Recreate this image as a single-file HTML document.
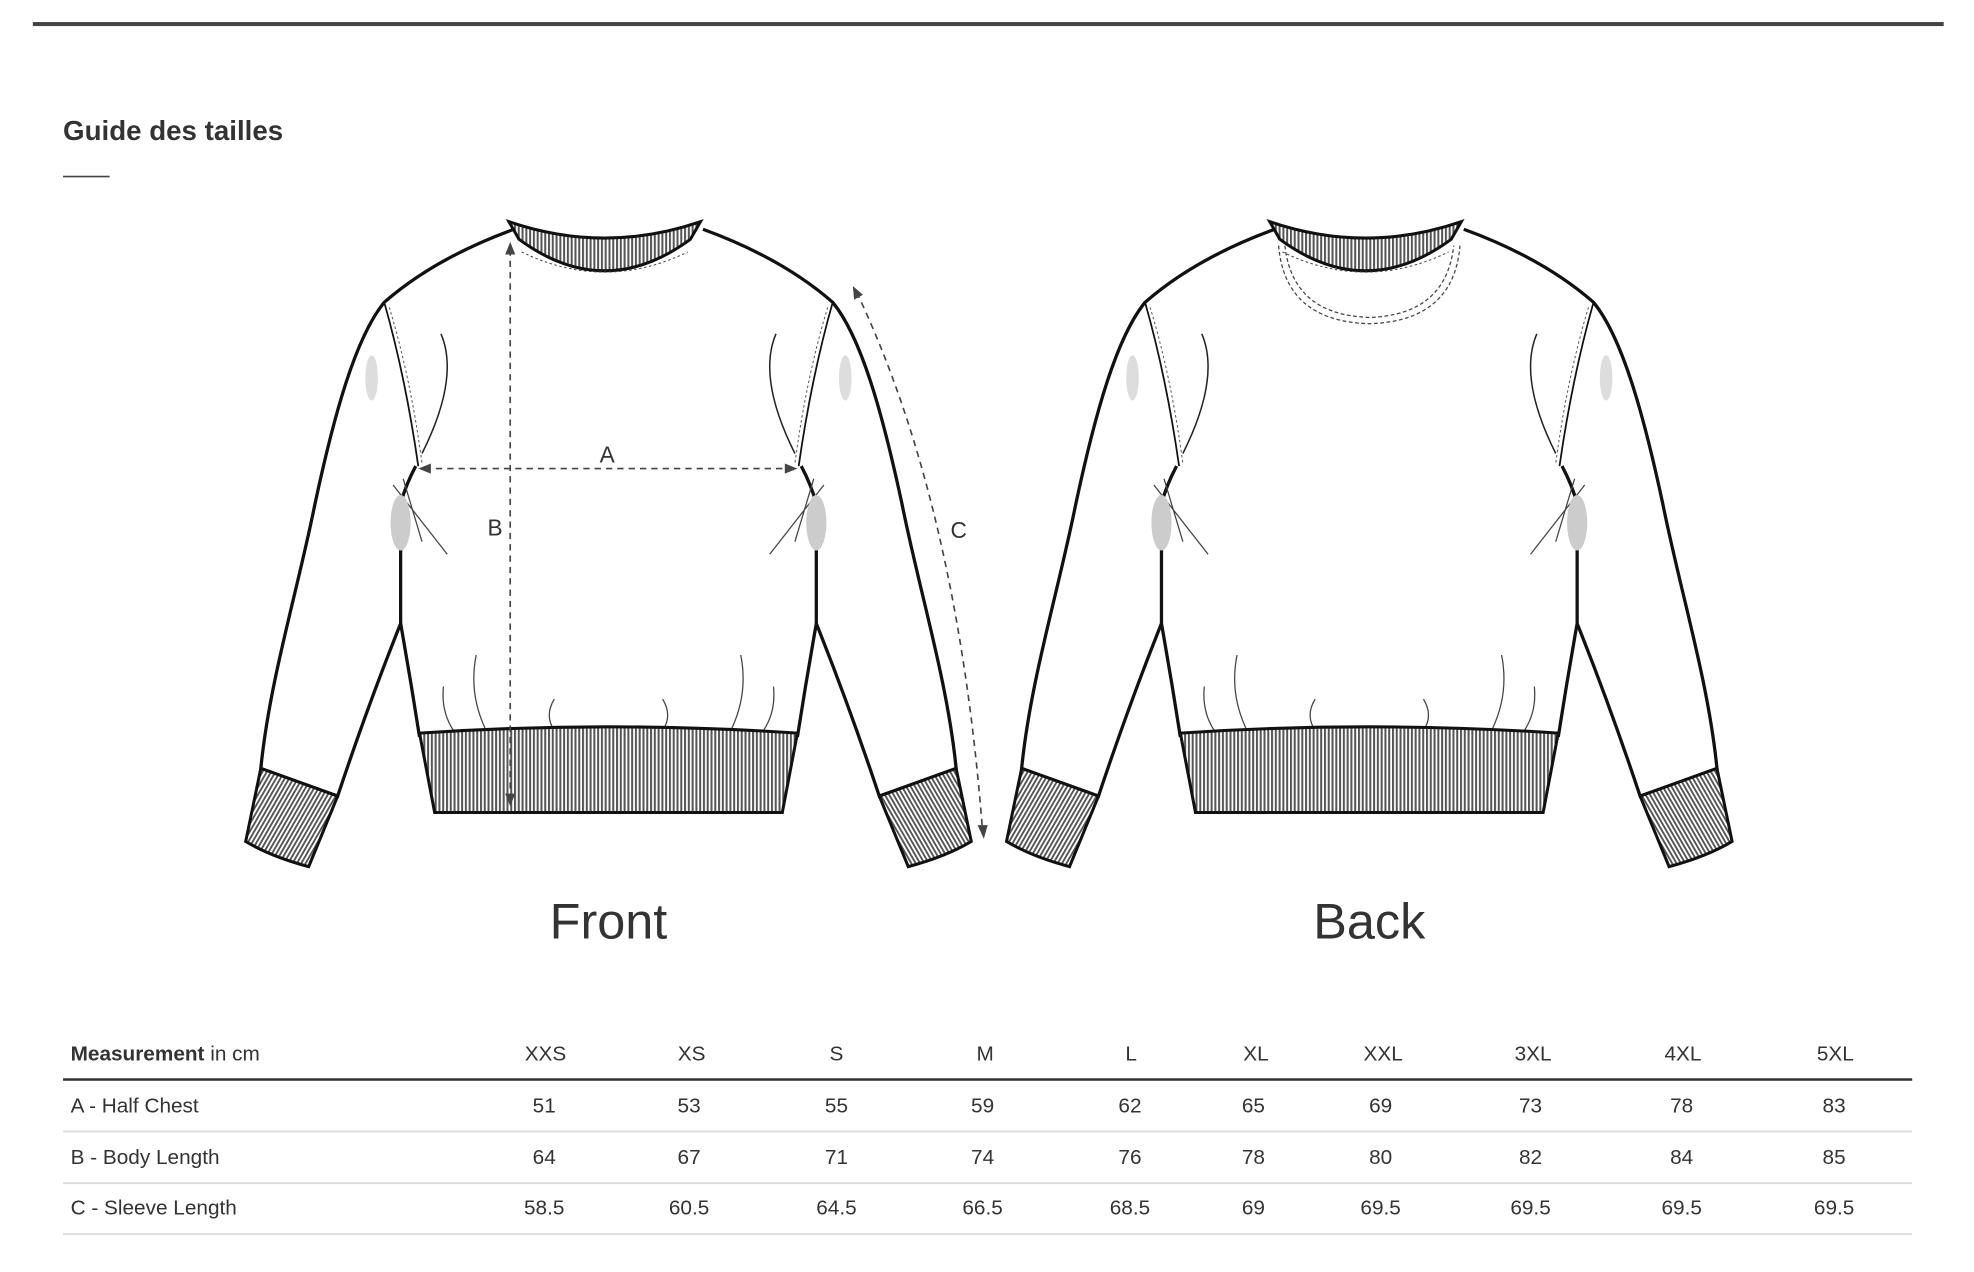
<!DOCTYPE html>
<html><head><meta charset="utf-8"><style>
html,body{margin:0;padding:0;background:#fff;}
svg{display:block;}
text{font-family:"Liberation Sans",sans-serif;fill:#333;}
</style></head><body>
<svg width="1974" height="1272" viewBox="0 0 1567 1009.8" xmlns="http://www.w3.org/2000/svg">
<defs>
<pattern id="rib" width="3" height="10" patternUnits="userSpaceOnUse">
<rect width="3" height="10" fill="#fff"/><rect width="1.6" height="10" fill="#555"/>
</pattern>
<pattern id="ribd" width="3" height="3" patternUnits="userSpaceOnUse" patternTransform="rotate(30)">
<rect width="3" height="3" fill="#fff"/><rect width="1.5" height="3" fill="#555"/>
</pattern>
<g id="half">
  <path d="M408,182 Q345,205 305,240 C282,268 265,330 250,400 C236,470 214,540 207,610 L268,632 C286,578 306,525 318,495 L318,400 Q322,385 330,370" fill="#fff" stroke="#111" stroke-width="2.6"/>
  <path d="M318,495 Q326,540 333,585" fill="none" stroke="#111" stroke-width="2.6"/>
  <path d="M305,240 Q322,300 332,370" fill="none" stroke="#111" stroke-width="1.4"/>
  <path d="M309,244 Q326,300 335,368" fill="none" stroke="#555" stroke-width="0.8" stroke-dasharray="2,2"/>
  <path d="M207,610 L268,632 L245,688 Q215,680 195,668 Z" fill="url(#ribd)" stroke="#111" stroke-width="2.4"/>
  <path d="M350,265 Q365,300 335,360" fill="none" stroke="#222" stroke-width="1.2"/>
  <path d="M312,385 L355,440 M320,380 L335,430" fill="none" stroke="#444" stroke-width="1"/>
  <ellipse cx="318" cy="415" rx="8" ry="22" fill="#ccc"/>
  <ellipse cx="295" cy="300" rx="5" ry="18" fill="#ddd"/>
  <path d="M352,545 Q350,565 360,580 M378,520 Q372,550 385,578 M440,555 Q432,568 440,580" fill="none" stroke="#444" stroke-width="1"/>
</g>
<g id="sweat">
  <use href="#half"/>
  <use href="#half" transform="translate(966,0) scale(-1,1)"/>
  <path d="M333,582 Q483,572 633,582 L621,645 L345,645 Z" fill="url(#rib)" stroke="#111" stroke-width="2.4"/>
  <path d="M404,176 Q480,202 556,176 L548,190 Q480,240 412,190 Z" fill="url(#rib)" stroke="#111" stroke-width="2.4"/>
  <path d="M414,200 Q480,232 546,200" fill="none" stroke="#444" stroke-width="0.8" stroke-dasharray="2,2"/>
</g>
</defs>
<rect width="1567" height="1010" fill="#fff"/>
<rect x="26" y="17.5" width="1517" height="3.2" fill="#444"/>
<text x="50" y="111" font-size="22" font-weight="bold" fill="#3a3a3a">Guide des tailles</text>
<rect x="50" y="139.5" width="37" height="1.3" fill="#444"/>

<use href="#sweat"/>
<use href="#sweat" transform="translate(604,0)"/>
<path d="M1015,195 Q1020,255 1087,257 Q1154,255 1159,195" fill="none" stroke="#444" stroke-width="1" stroke-dasharray="3,2"/>
<path d="M1020,195 Q1026,250 1087,252 Q1148,250 1154,195" fill="none" stroke="#444" stroke-width="1" stroke-dasharray="3,2"/>

<g stroke="#444" stroke-width="1.3" stroke-dasharray="5,4" fill="none">
  <path d="M405,198 L405,636"/>
  <path d="M337,372 L628,372"/>
  <path d="M680,232 Q760,400 780,660"/>
</g>
<g fill="#444">
  <path d="M405,192 L401,202 L409,202 Z"/>
  <path d="M405,640 L401,630 L409,630 Z"/>
  <path d="M332,372 L342,368 L342,376 Z"/>
  <path d="M633,372 L623,368 L623,376 Z"/>
  <path d="M677,227 L678,238 L685,234 Z"/>
  <path d="M781,666 L776,655 L784,655 Z"/>
</g>
<text x="482" y="367" font-size="18" text-anchor="middle">A</text>
<text x="393" y="425" font-size="18" text-anchor="middle">B</text>
<text x="761" y="427" font-size="18" text-anchor="middle">C</text>

<text x="483" y="745" font-size="40" text-anchor="middle">Front</text>
<text x="1087" y="745" font-size="40" text-anchor="middle">Back</text>

<g font-size="16.5">
<text x="56" y="842"><tspan font-weight="bold">Measurement</tspan> in cm</text>
<g text-anchor="middle">
<text x="433" y="842">XXS</text><text x="549" y="842">XS</text><text x="664" y="842">S</text><text x="782" y="842">M</text><text x="898" y="842">L</text><text x="997" y="842">XL</text><text x="1098" y="842">XXL</text><text x="1217" y="842">3XL</text><text x="1336" y="842">4XL</text><text x="1457" y="842">5XL</text>
<text x="432" y="883">51</text><text x="547" y="883">53</text><text x="664" y="883">55</text><text x="780" y="883">59</text><text x="897" y="883">62</text><text x="995" y="883">65</text><text x="1096" y="883">69</text><text x="1215" y="883">73</text><text x="1335" y="883">78</text><text x="1456" y="883">83</text>
<text x="432" y="924">64</text><text x="547" y="924">67</text><text x="664" y="924">71</text><text x="780" y="924">74</text><text x="897" y="924">76</text><text x="995" y="924">78</text><text x="1096" y="924">80</text><text x="1215" y="924">82</text><text x="1335" y="924">84</text><text x="1456" y="924">85</text>
<text x="432" y="964">58.5</text><text x="547" y="964">60.5</text><text x="664" y="964">64.5</text><text x="780" y="964">66.5</text><text x="897" y="964">68.5</text><text x="995" y="964">69</text><text x="1096" y="964">69.5</text><text x="1215" y="964">69.5</text><text x="1335" y="964">69.5</text><text x="1456" y="964">69.5</text>
</g>
<text x="56" y="883">A - Half Chest</text>
<text x="56" y="924">B - Body Length</text>
<text x="56" y="964">C - Sleeve Length</text>
</g>
<rect x="50" y="856" width="1468" height="2" fill="#333"/>
<rect x="50" y="897.5" width="1468" height="1.5" fill="#ddd"/>
<rect x="50" y="938.5" width="1468" height="1.5" fill="#ddd"/>
<rect x="50" y="979" width="1468" height="1.5" fill="#ddd"/>
</svg>
</body></html>
